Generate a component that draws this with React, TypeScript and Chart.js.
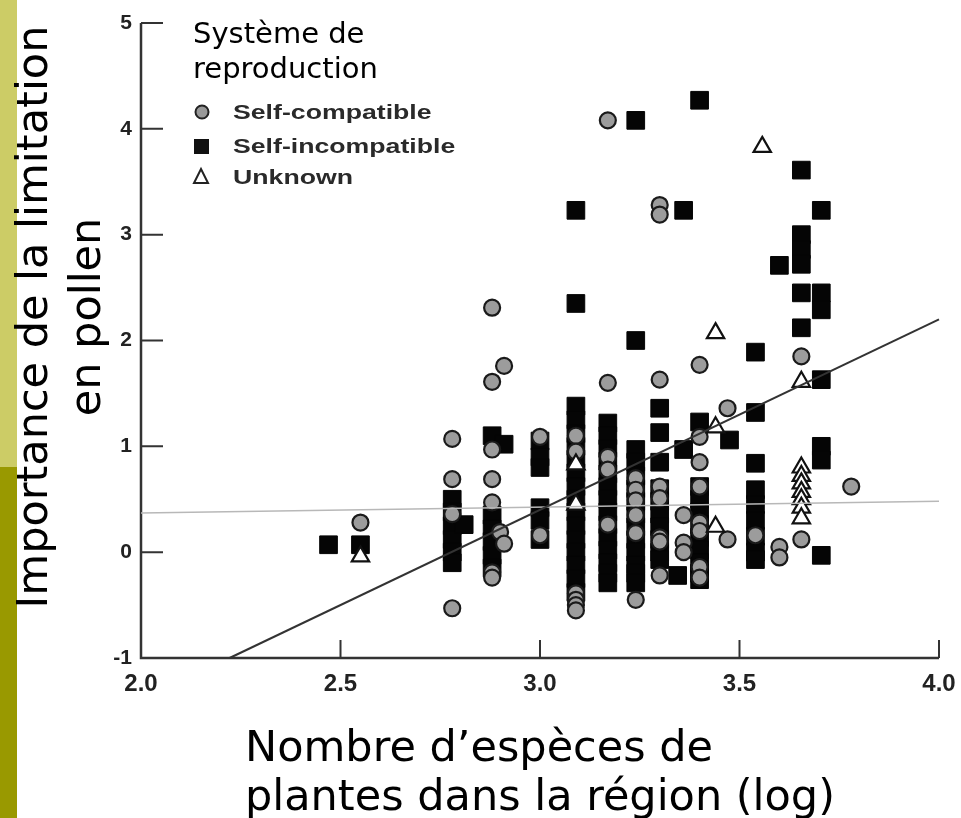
import { useEffect, useRef } from "react";
import { Chart, registerables } from "chart.js";

Chart.register(...registerables);

// Axis ticks
const xTickValues = [2.5, 3.0, 3.5, 4.0];
const xTickLabels = ["2.0", "2.5", "3.0", "3.5", "4.0"];
const xLabelValues = [2.0, 2.5, 3.0, 3.5, 4.0];
const yTickValues = [0, 1, 2, 3, 4, 5];
const yLabelValues = [-1, 0, 1, 2, 3, 4, 5];
const yTickLabels = ["-1", "0", "1", "2", "3", "4", "5"];

// Self-compatible species: [log species richness, pollen limitation]
const selfCompatible: [number, number][] = [
  [2.55, 0.28],
  [2.78, 1.07], [2.78, 0.69], [2.78, 0.36], [2.78, -0.53],
  [2.88, 2.31], [2.91, 1.76], [2.88, 1.61], [2.88, 0.97], [2.88, 0.69], [2.88, 0.47],
  [2.88, -0.19], [2.88, -0.24], [2.9, 0.19], [2.91, 0.08],
  [3.0, 1.09], [3.0, 0.16],
  [3.09, 1.1], [3.09, 0.95], [3.09, -0.39], [3.09, -0.45], [3.09, -0.5], [3.09, -0.55],
  [3.17, 4.08], [3.17, 1.6], [3.17, 0.9], [3.17, 0.78], [3.17, 0.26],
  [3.24, 0.7], [3.24, 0.59], [3.24, 0.49], [3.24, 0.35], [3.24, 0.18], [3.24, -0.45],
  [3.3, 3.28], [3.3, 3.19], [3.3, 1.63], [3.3, 0.62], [3.3, 0.51], [3.3, 0.14], [3.3, 0.1], [3.3, -0.22],
  [3.36, 0.35], [3.36, 0.09], [3.36, 0.0],
  [3.4, 1.77], [3.4, 1.09], [3.4, 0.85], [3.4, 0.62], [3.4, 0.28], [3.4, 0.2], [3.4, -0.14], [3.4, -0.24],
  [3.47, 1.36], [3.47, 0.12],
  [3.54, 0.16],
  [3.6, 0.05], [3.6, -0.05],
  [3.655, 1.85], [3.655, 0.12],
  [3.78, 0.62],
];

// Self-incompatible species
const selfIncompatible: [number, number][] = [
  [2.47, 0.07],
  [2.55, 0.07],
  [2.78, 0.5], [2.78, 0.38], [2.78, 0.25], [2.78, 0.12], [2.78, 0.0], [2.78, -0.1],
  [2.81, 0.26],
  [2.88, 1.1], [2.88, 0.35], [2.88, 0.22], [2.88, 0.1], [2.88, -0.03], [2.88, -0.15],
  [2.91, 1.02],
  [3.0, 1.05], [3.0, 0.9], [3.0, 0.8], [3.0, 0.42], [3.0, 0.3], [3.0, 0.12],
  [3.09, 3.23], [3.09, 2.35], [3.09, 1.38], [3.09, 1.25], [3.09, 1.12], [3.09, 1.0], [3.09, 0.88],
  [3.09, 0.75], [3.09, 0.62], [3.09, 0.5], [3.09, 0.38], [3.09, 0.25], [3.09, 0.12], [3.09, 0.0],
  [3.09, -0.12], [3.09, -0.25], [3.09, -0.38],
  [3.17, 1.22], [3.17, 1.1], [3.17, 0.98], [3.17, 0.86], [3.17, 0.74], [3.17, 0.62], [3.17, 0.5],
  [3.17, 0.38], [3.17, 0.26], [3.17, 0.14], [3.17, 0.02], [3.17, -0.1], [3.17, -0.2], [3.17, -0.29],
  [3.24, 4.08], [3.24, 2.0], [3.24, 0.97], [3.24, 0.85], [3.24, 0.72], [3.24, 0.6], [3.24, 0.48],
  [3.24, 0.36], [3.24, 0.24], [3.24, 0.12], [3.24, 0.0], [3.24, -0.12], [3.24, -0.2], [3.24, -0.29],
  [3.3, 1.36], [3.3, 1.13], [3.3, 0.85], [3.3, 0.6], [3.3, 0.48], [3.3, 0.36], [3.3, 0.24],
  [3.3, 0.12], [3.3, 0.0], [3.3, -0.07],
  [3.36, 3.23], [3.36, 0.97], [3.345, -0.22],
  [3.4, 4.27], [3.4, 1.23], [3.4, 0.62], [3.4, 0.5], [3.4, 0.38], [3.4, 0.26], [3.4, 0.14],
  [3.4, 0.02], [3.4, -0.1], [3.4, -0.2], [3.4, -0.26],
  [3.475, 1.06],
  [3.54, 1.89], [3.54, 1.32], [3.54, 0.84], [3.54, 0.59], [3.54, 0.45], [3.54, 0.3],
  [3.54, 0.15], [3.54, 0.0], [3.54, -0.07],
  [3.6, 2.71],
  [3.655, 3.61], [3.655, 3.0], [3.655, 2.86], [3.655, 2.72], [3.655, 2.45], [3.655, 2.12],
  [3.705, 3.23], [3.705, 2.45], [3.705, 2.29], [3.705, 1.63], [3.705, 1.0], [3.705, 0.87], [3.705, -0.03],
];

// Breeding system unknown
const unknownSystem: [number, number][] = [
  [2.55, -0.04],
  [3.09, 0.83], [3.09, 0.45],
  [3.44, 2.07], [3.44, 1.18], [3.44, 0.24],
  [3.557, 3.83],
  [3.655, 1.61], [3.655, 0.8], [3.655, 0.72], [3.655, 0.65], [3.655, 0.57], [3.655, 0.5],
  [3.655, 0.42], [3.655, 0.32],
];

// Fitted lines: all species, and the flat reference fit
const steepFitX = [2.222, 4.0];
const steepFitY = [-1, 2.2];
const flatFitX = [2.0, 4.0];
const flatFitY = [0.37, 0.48];

const legendTitle = ["Système de", "reproduction"];
const legendItems = ["Self-compatible", "Self-incompatible", "Unknown"];
const yTitle = ["Importance de la limitation", "en pollen"];
const xTitle = ["Nombre d\u2019espèces de", "plantes dans la région (log)"];

const toPoints = (pairs: [number, number][]) => pairs.map(([x, y]) => ({ x, y }));
const zipPoints = (xs: number[], ys: number[]) => xs.map((x, i) => ({ x, y: ys[i] }));

function stretchedText(
  ctx: CanvasRenderingContext2D,
  text: string,
  x: number,
  y: number,
  sx: number,
  align: CanvasTextAlign
) {
  ctx.save();
  ctx.translate(x, y);
  ctx.scale(sx, 1);
  ctx.textAlign = align;
  ctx.fillText(text, 0, 0);
  ctx.restore();
}

const decorPlugin = {
  id: "decor",
  beforeDraw(chart: any) {
    const ctx: CanvasRenderingContext2D = chart.ctx;
    ctx.save();
    ctx.fillStyle = "#ffffff";
    ctx.fillRect(0, 0, chart.width, chart.height);
    // side strip
    ctx.fillStyle = "#cccc66";
    ctx.fillRect(0, 0, 17, 467);
    ctx.fillStyle = "#999900";
    ctx.fillRect(0, 467, 17, chart.height - 467);
    ctx.restore();
  },
  beforeDatasetsDraw(chart: any) {
    const ctx: CanvasRenderingContext2D = chart.ctx;
    const xs = chart.scales.x;
    const ys = chart.scales.y;
    const x0 = xs.getPixelForValue(2.0);
    const x1 = xs.getPixelForValue(4.0);
    const yBottom = ys.getPixelForValue(-1);
    const yTop = ys.getPixelForValue(5);
    ctx.save();
    ctx.strokeStyle = "#333333";
    ctx.lineWidth = 2.5;
    ctx.lineCap = "butt";
    ctx.beginPath();
    ctx.moveTo(x0, yTop);
    ctx.lineTo(x0, yBottom);
    ctx.lineTo(x1, yBottom);
    ctx.stroke();
    ctx.lineWidth = 2;
    ctx.beginPath();
    for (const v of yTickValues) {
      const py = ys.getPixelForValue(v);
      ctx.moveTo(x0, py);
      ctx.lineTo(x0 + 22, py);
    }
    for (const v of xTickValues) {
      const px = xs.getPixelForValue(v);
      ctx.moveTo(px, yBottom);
      ctx.lineTo(px, yBottom - 18);
    }
    ctx.stroke();

    // tick labels
    ctx.fillStyle = "#222222";
    ctx.textBaseline = "middle";
    ctx.font = "bold 21px 'Liberation Sans', Arial, sans-serif";
    yLabelValues.forEach((v, i) => {
      ctx.textAlign = "right";
      ctx.fillText(yTickLabels[i], x0 - 9, ys.getPixelForValue(v));
    });
    ctx.font = "bold 24px 'Liberation Sans', Arial, sans-serif";
    xLabelValues.forEach((v, i) => {
      stretchedText(ctx, xTickLabels[i], xs.getPixelForValue(v), yBottom + 26, 1.0, "center");
    });
    ctx.restore();
  },
  afterDraw(chart: any) {
    const ctx: CanvasRenderingContext2D = chart.ctx;
    ctx.save();
    ctx.fillStyle = "#000000";
    ctx.textBaseline = "alphabetic";

    // legend title
    ctx.font = "29px 'DejaVu Sans', Verdana, sans-serif";
    ctx.textAlign = "left";
    ctx.fillText(legendTitle[0], 193, 43);
    ctx.fillText(legendTitle[1], 193, 78);

    // legend entries
    const rows = [112, 146, 177];
    ctx.fillStyle = "#2a2a2a";
    ctx.font = "bold 21px 'Liberation Sans', Arial, sans-serif";
    ctx.textBaseline = "middle";
    legendItems.forEach((t, i) => stretchedText(ctx, t, 233, rows[i] + 1, 1.27, "left"));

    ctx.lineWidth = 2;
    ctx.strokeStyle = "#222222";
    ctx.fillStyle = "#999999";
    ctx.beginPath();
    ctx.arc(202, rows[0], 6.5, 0, Math.PI * 2);
    ctx.fill();
    ctx.stroke();
    ctx.fillStyle = "#111111";
    ctx.fillRect(194, rows[1] - 7, 15, 15);
    ctx.fillStyle = "#ffffff";
    ctx.beginPath();
    ctx.moveTo(201, rows[2] - 8);
    ctx.lineTo(208, rows[2] + 6);
    ctx.lineTo(194, rows[2] + 6);
    ctx.closePath();
    ctx.fill();
    ctx.stroke();

    // axis titles
    ctx.fillStyle = "#000000";
    ctx.textBaseline = "alphabetic";
    ctx.font = "43px 'DejaVu Sans', Verdana, sans-serif";
    ctx.save();
    ctx.translate(0, 317);
    ctx.rotate(-Math.PI / 2);
    ctx.textAlign = "center";
    ctx.fillText(yTitle[0], 0, 47);
    ctx.fillText(yTitle[1], 0, 100);
    ctx.restore();

    ctx.textAlign = "left";
    ctx.fillText(xTitle[0], 245, 761);
    ctx.fillText(xTitle[1], 245, 810);
    ctx.restore();
  },
};

export default function App() {
  const canvasRef = useRef<HTMLCanvasElement | null>(null);

  useEffect(() => {
    if (!canvasRef.current) return;
    const chart = new Chart(canvasRef.current, {
      type: "scatter",
      data: {
        datasets: [
          {
            label: "fit",
            data: zipPoints(steepFitX, steepFitY),
            showLine: true,
            borderColor: "#333333",
            borderWidth: 2,
            pointRadius: 0,
            order: 0,
          },
          {
            label: "flat fit",
            data: zipPoints(flatFitX, flatFitY),
            showLine: true,
            borderColor: "#b8b8b8",
            borderWidth: 1.5,
            pointRadius: 0,
            order: 1,
          },
          {
            label: legendItems[2],
            data: toPoints(unknownSystem),
            pointStyle: "triangle",
            pointRadius: 10,
            backgroundColor: "#ffffff",
            borderColor: "#111111",
            borderWidth: 2.2,
            order: 2,
          },
          {
            label: legendItems[0],
            data: toPoints(selfCompatible),
            pointStyle: "circle",
            pointRadius: 8,
            backgroundColor: "#9c9c9c",
            borderColor: "#1a1a1a",
            borderWidth: 2.2,
            order: 3,
          },
          {
            label: legendItems[1],
            data: toPoints(selfIncompatible),
            pointStyle: "rect",
            pointRadius: 12.5,
            backgroundColor: "#050505",
            borderColor: "#050505",
            borderWidth: 1,
            order: 4,
          },
        ],
      },
      options: {
        animation: false,
        responsive: false,
        devicePixelRatio: 1,
        clip: false as any,
        layout: { padding: { left: 141, right: 22, top: 23, bottom: 160 } },
        scales: {
          x: { type: "linear", min: 2, max: 4, display: false },
          y: { type: "linear", min: -1, max: 5, display: false },
        },
        plugins: {
          legend: { display: false },
          tooltip: { enabled: false },
        },
        elements: { line: { tension: 0 } },
      },
      plugins: [decorPlugin],
    });
    return () => chart.destroy();
  }, []);

  return (
    <div style={{ position: "fixed", left: 0, top: 0, width: 961, height: 818, background: "#fff" }}>
      <canvas ref={canvasRef} width={961} height={818} style={{ display: "block" }} />
    </div>
  );
}
